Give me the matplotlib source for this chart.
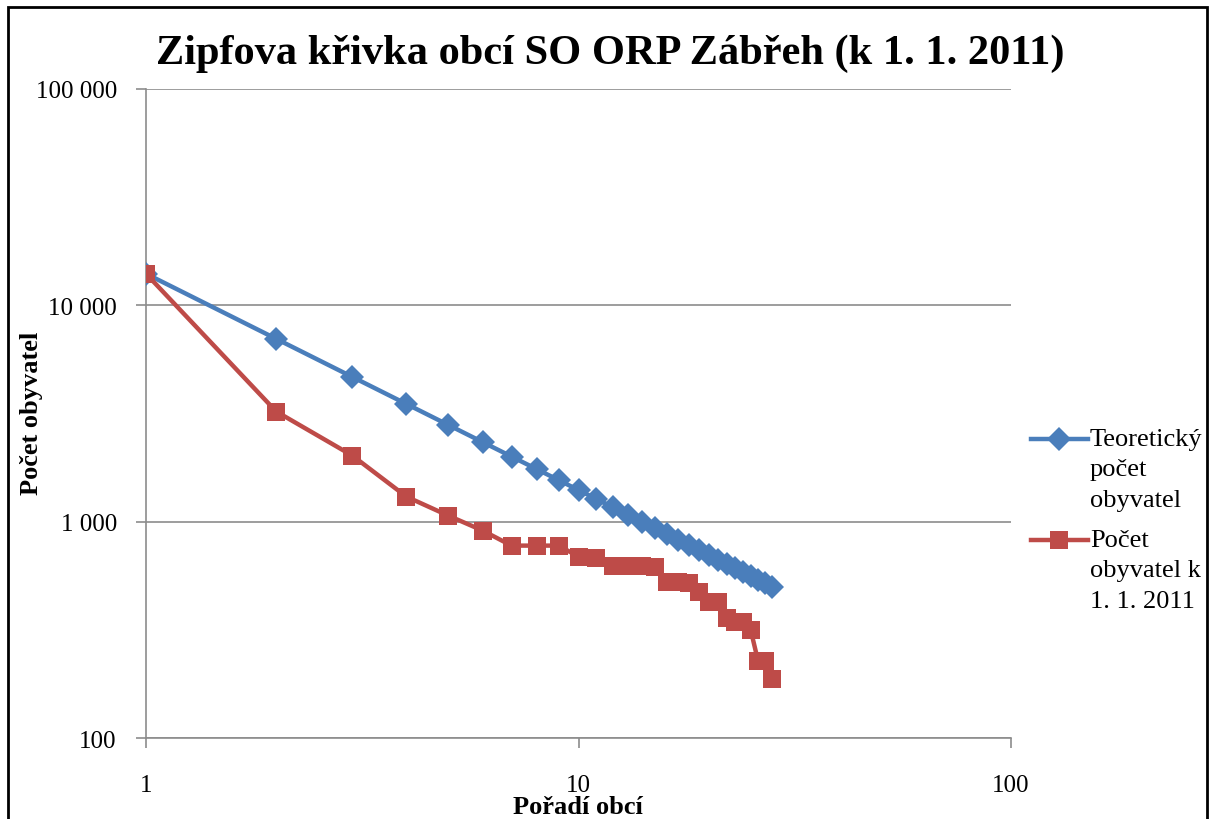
import matplotlib
matplotlib.use("Agg")
import matplotlib.pyplot as plt
from matplotlib.patches import Rectangle
from matplotlib.lines import Line2D
from matplotlib.ticker import FixedLocator, FuncFormatter, NullLocator

plt.rcParams['font.family'] = ['Liberation Serif', 'DejaVu Serif']

title = "Zipfova křivka obcí SO ORP Zábřeh (k 1. 1. 2011)"
xlabel = "Pořadí obcí"
ylabel = "Počet obyvatel"
label_theor = "Teoretický\npočet\nobyvatel"
label_actual = "Počet\nobyvatel k\n1. 1. 2011"

ranks = list(range(1, 29))
theoretical = [14000 / r for r in ranks]
actual = [14000, 3230, 2020, 1305, 1066, 910, 775, 775, 775, 689, 682,
          626, 626, 622, 616, 528, 528, 523, 475, 427, 427, 360, 345,
          342, 317, 228, 226, 188]

yticks = [100, 1000, 10000, 100000]
xticks = [1, 10, 100]

blue = '#4A7EBB'
red = '#BE4B48'

W, H = 1211, 820
fig = plt.figure(figsize=(W / 100, H / 100), dpi=100)
ax = fig.add_axes([146/W, 1 - 739/H, (1011-146)/W, (739-90)/H])

ax.plot(ranks, theoretical, color=blue, lw=3.2, marker='D', ms=12,
        markeredgewidth=0, label=label_theor, zorder=3)
ax.plot(ranks, actual, color=red, lw=3.2, marker='s', ms=13.5,
        markeredgewidth=0, label=label_actual, zorder=4)

ax.set_xscale('log')
ax.set_yscale('log')
ax.set_xlim(1, 100)
ax.set_ylim(100, 100000)
ax.xaxis.set_major_locator(FixedLocator(xticks))
ax.yaxis.set_major_locator(FixedLocator(yticks))
ax.xaxis.set_minor_locator(NullLocator())
ax.yaxis.set_minor_locator(NullLocator())
ax.xaxis.set_major_formatter(FuncFormatter(lambda v, p: f"{int(v)}"))
ax.yaxis.set_major_formatter(FuncFormatter(lambda v, p: f"{int(v):,}".replace(",", " ")))
ax.grid(axis='y', color='#8c8c8c', lw=1.2)
ax.set_axisbelow(True)
for s in ['top', 'right']:
    ax.spines[s].set_visible(False)
for s in ['left', 'bottom']:
    ax.spines[s].set_color('#8c8c8c')
    ax.spines[s].set_linewidth(1.2)
ax.tick_params(axis='both', which='major', length=7, width=1.2, color='#8c8c8c',
               labelsize=18, direction='out')
ax.tick_params(axis='x', pad=19)
ax.tick_params(axis='y', pad=14)

fig.text(610/W, 1 - 54/H, title, ha='center', va='center',
         fontsize=30.5, fontweight='bold')
fig.text(578/W, 1 - 808/H, xlabel, ha='center', va='center',
         fontsize=19, fontweight='bold')
fig.text(32/W, 1 - 413/H, ylabel, ha='center', va='center',
         fontsize=19, fontweight='bold', rotation=90)

# Manual legend (handle aligned with the first text line, as in the reference)
entries = [(label_theor, blue, 'D', 12, 440), (label_actual, red, 's', 13.5, 541)]
for text, col, mk, ms, ypx in entries:
    y = 1 - ypx / H
    fig.add_artist(Line2D([1031/W, 1088/W], [y, y], transform=fig.transFigure,
                          color=col, lw=3.2))
    fig.add_artist(Line2D([1059/W], [y], transform=fig.transFigure,
                          color=col, marker=mk, ms=ms, markeredgewidth=0, lw=0))
    fig.text(1090/W, 1 - (ypx - 11) / H, text, ha='left', va='top',
             fontsize=19, linespacing=1.5)

fig.patches.append(Rectangle((8/W, -0.02), (1207-8)/W, 1.02 - 8/H,
                             transform=fig.transFigure, fill=False,
                             edgecolor='black', lw=2, zorder=10))

fig.savefig('out.png', dpi=100)
